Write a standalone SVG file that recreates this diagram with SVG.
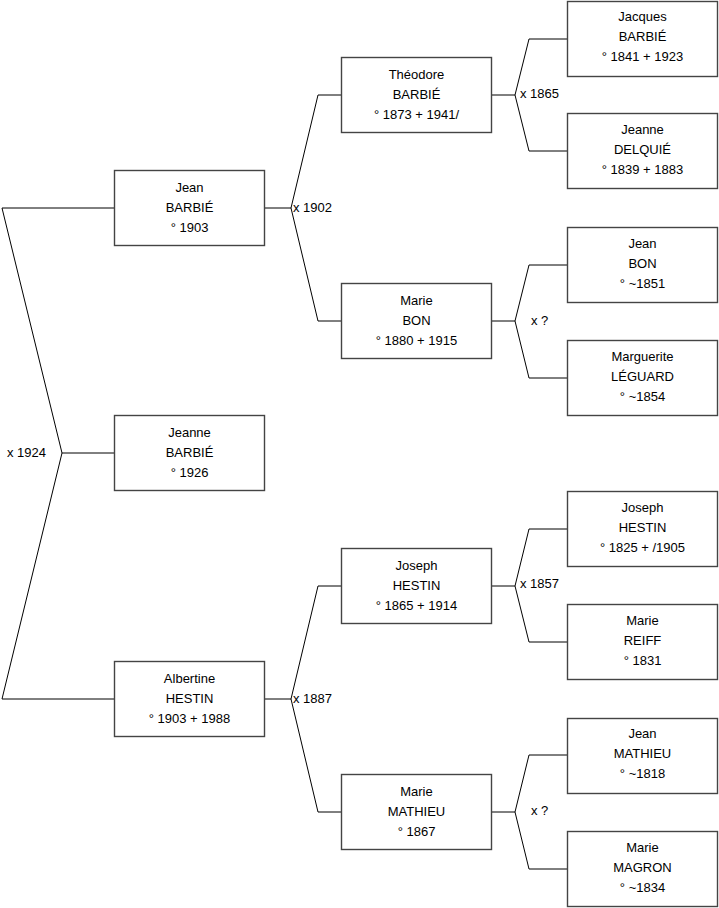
<svg xmlns="http://www.w3.org/2000/svg" width="719" height="908" viewBox="0 0 719 908">
<style>
.b{fill:#fff;stroke:#444;stroke-width:1.4}
.t{font-family:"Liberation Sans",Arial,sans-serif;font-size:13px;fill:#000;text-anchor:middle;dominant-baseline:central}
.l{font-family:"Liberation Sans",Arial,sans-serif;font-size:13px;fill:#000;dominant-baseline:central}
.c{fill:none;stroke:#000;stroke-width:1}
</style>
<rect width="719" height="908" fill="#fff"/>
<g id="connectors">
<path class="c" d="M114,208H2L62,453H114M62,453L2,699H114"/>
<path class="c" d="M265,208H291M318,95L291,208L318,321M318,95H341M318,321H341"/>
<path class="c" d="M265,699H291M318,586L291,699L318,812M318,586H341M318,812H341"/>
<path class="c" d="M492,95H515M529,39L515,95L529,151M529,39H567M529,151H567"/>
<path class="c" d="M492,321H515M529,265L515,321L529,378M529,265H567M529,378H567"/>
<path class="c" d="M492,586H515M529,529L515,586L529,642M529,529H567M529,642H567"/>
<path class="c" d="M492,812H515M529,755L515,812L529,869M529,755H567M529,869H567"/>
<text class="l" x="7" y="452.5">x 1924</text>
<text class="l" x="293" y="207.5">x 1902</text>
<text class="l" x="293" y="698.5">x 1887</text>
<text class="l" x="520" y="93.5">x 1865</text>
<text class="l" x="531" y="320.5">x ?</text>
<text class="l" x="520" y="583.5">x 1857</text>
<text class="l" x="531" y="810.5">x ?</text>
</g>
<g id="n1"><rect class="b" x="114.5" y="170.5" width="150" height="75"/><text class="t" x="189.5" y="187.5">Jean</text><text class="t" x="189.5" y="207.5">BARBIÉ</text><text class="t" x="189.5" y="227.5">° 1903</text></g>
<g id="n2"><rect class="b" x="114.5" y="415.5" width="150" height="75"/><text class="t" x="189.5" y="432.5">Jeanne</text><text class="t" x="189.5" y="452.5">BARBIÉ</text><text class="t" x="189.5" y="472.5">° 1926</text></g>
<g id="n3"><rect class="b" x="114.5" y="661.5" width="150" height="75"/><text class="t" x="189.5" y="678">Albertine</text><text class="t" x="189.5" y="698">HESTIN</text><text class="t" x="189.5" y="718">° 1903 + 1988</text></g>
<g id="n4"><rect class="b" x="341.5" y="57.5" width="150" height="75"/><text class="t" x="416.5" y="74">Théodore</text><text class="t" x="416.5" y="94">BARBIÉ</text><text class="t" x="416.5" y="114">° 1873 + 1941/</text></g>
<g id="n5"><rect class="b" x="341.5" y="283.5" width="150" height="75"/><text class="t" x="416.5" y="300">Marie</text><text class="t" x="416.5" y="320">BON</text><text class="t" x="416.5" y="340">° 1880 + 1915</text></g>
<g id="n6"><rect class="b" x="341.5" y="548.5" width="150" height="75"/><text class="t" x="416.5" y="565">Joseph</text><text class="t" x="416.5" y="585">HESTIN</text><text class="t" x="416.5" y="605">° 1865 + 1914</text></g>
<g id="n7"><rect class="b" x="341.5" y="774.5" width="150" height="75"/><text class="t" x="416.5" y="791">Marie</text><text class="t" x="416.5" y="811">MATHIEU</text><text class="t" x="416.5" y="831">° 1867</text></g>
<g id="n8"><rect class="b" x="567.5" y="1.5" width="150" height="75"/><text class="t" x="642.5" y="16.5">Jacques</text><text class="t" x="642.5" y="36.5">BARBIÉ</text><text class="t" x="642.5" y="56.5">° 1841 + 1923</text></g>
<g id="n9"><rect class="b" x="567.5" y="113.5" width="150" height="75"/><text class="t" x="642.5" y="129.5">Jeanne</text><text class="t" x="642.5" y="149.5">DELQUIÉ</text><text class="t" x="642.5" y="169.5">° 1839 + 1883</text></g>
<g id="n10"><rect class="b" x="567.5" y="227.5" width="150" height="75"/><text class="t" x="642.5" y="243.5">Jean</text><text class="t" x="642.5" y="263.5">BON</text><text class="t" x="642.5" y="283.5">° ~1851</text></g>
<g id="n11"><rect class="b" x="567.5" y="340.5" width="150" height="75"/><text class="t" x="642.5" y="356.5">Marguerite</text><text class="t" x="642.5" y="376.5">LÉGUARD</text><text class="t" x="642.5" y="396.5">° ~1854</text></g>
<g id="n12"><rect class="b" x="567.5" y="491.5" width="150" height="75"/><text class="t" x="642.5" y="507.5">Joseph</text><text class="t" x="642.5" y="527.5">HESTIN</text><text class="t" x="642.5" y="547.5">° 1825 + /1905</text></g>
<g id="n13"><rect class="b" x="567.5" y="604.5" width="150" height="75"/><text class="t" x="642.5" y="620.5">Marie</text><text class="t" x="642.5" y="640.5">REIFF</text><text class="t" x="642.5" y="660.5">° 1831</text></g>
<g id="n14"><rect class="b" x="567.5" y="718.5" width="150" height="75"/><text class="t" x="642.5" y="733.5">Jean</text><text class="t" x="642.5" y="753.5">MATHIEU</text><text class="t" x="642.5" y="773.5">° ~1818</text></g>
<g id="n15"><rect class="b" x="567.5" y="831.5" width="150" height="75"/><text class="t" x="642.5" y="847.5">Marie</text><text class="t" x="642.5" y="867.5">MAGRON</text><text class="t" x="642.5" y="887.5">° ~1834</text></g>
</svg>
